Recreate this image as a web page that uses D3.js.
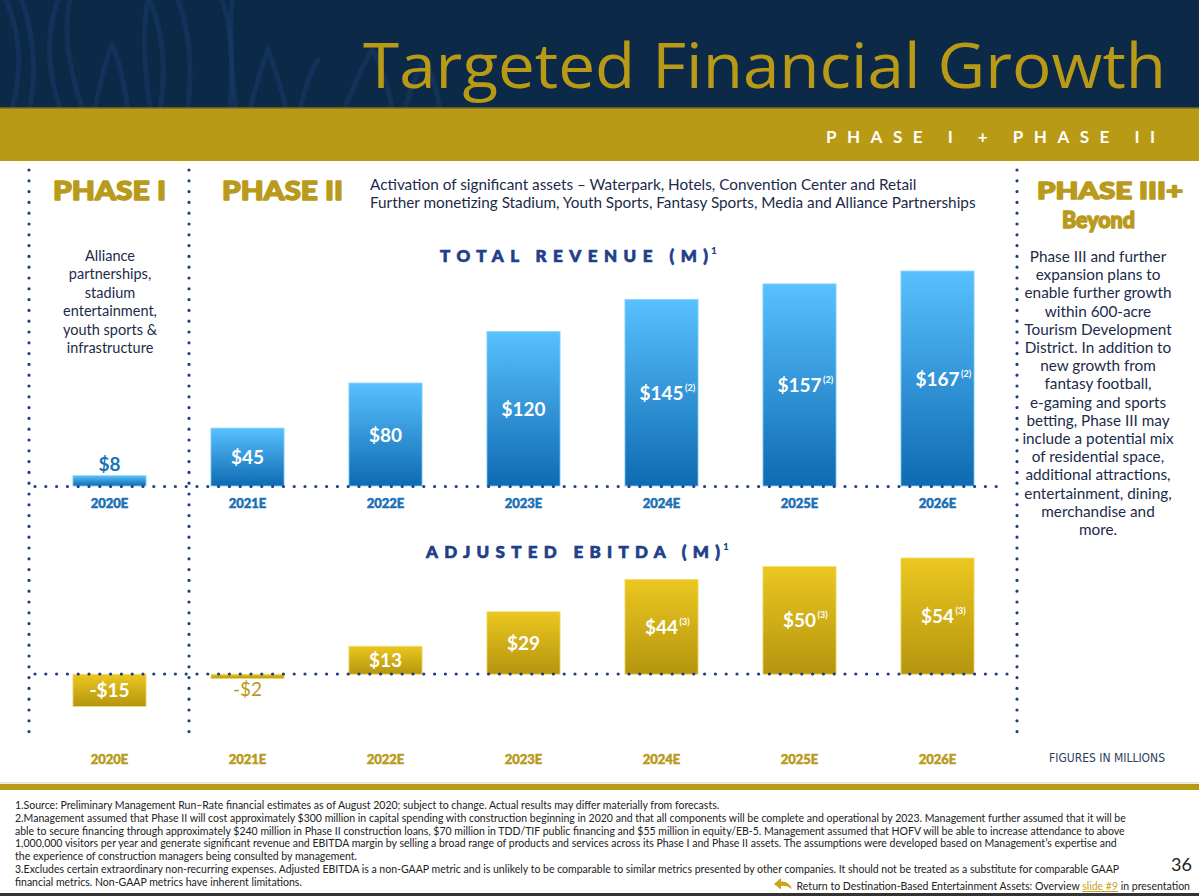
<!DOCTYPE html>
<html><head><meta charset="utf-8">
<script src="https://cdn.jsdelivr.net/npm/d3@7"></script>
<style>body{margin:0;background:#fff}svg{display:block}</style>
</head><body><svg id="c" width="1199" height="896"></svg>
<script>
// ---------- DATA ----------
const years = ["2020E","2021E","2022E","2023E","2024E","2025E","2026E"];
const revenue = [8,45,80,120,145,157,167];
const revenueNotes = ["","","","","(2)","(2)","(2)"];
const ebitda = [-15,-2,13,29,44,50,54];
const ebitdaNotes = ["","","","","(3)","(3)","(3)"];
const phase1Lines = ["Alliance","partnerships,","stadium","entertainment,","youth sports &","infrastructure"];
const phase3Lines = ["Phase III and further","expansion plans to","enable further growth","within 600-acre","Tourism Development","District. In addition to","new growth from","fantasy football,","e-gaming and sports","betting, Phase III may","include a potential mix","of residential space,","additional attractions,","entertainment, dining,","merchandise and","more."];
const phase2Lines = ["Activation of significant assets \u2013 Waterpark, Hotels, Convention Center and Retail","Further monetizing Stadium, Youth Sports, Fantasy Sports, Media and Alliance Partnerships"];
const footnotes = [
"1.Source: Preliminary Management Run\u2013Rate financial estimates as of August 2020; subject to change. Actual results may differ materially from forecasts.",
"2.Management assumed that Phase II will cost approximately $300 million in capital spending with construction beginning in 2020 and that all components will be complete and operational by 2023. Management further assumed that it will be",
"able to secure financing through approximately $240 million in Phase II construction loans, $70 million in TDD/TIF public financing and $55 million in equity/EB-5. Management assumed that HOFV will be able to increase attendance to above",
"1,000,000 visitors per year and generate significant revenue and EBITDA margin by selling a broad range of products and services across its Phase I and Phase II assets. The assumptions were developed based on Management\u2019s expertise and",
"the experience of construction managers being consulted by management.",
"3.Excludes certain extraordinary non-recurring expenses. Adjusted EBITDA is a non-GAAP metric and is unlikely to be comparable to similar metrics presented by other companies. It should not be treated as a substitute for comparable GAAP",
"financial metrics. Non-GAAP metrics have inherent limitations."
];

// ---------- SETUP ----------
const W = 1199, H = 896;
const svg = d3.select("#c");
const defs = svg.append("defs");
function grad(id, c0, c1){
  const g = defs.append("linearGradient").attr("id", id).attr("x1",0).attr("y1",0).attr("x2",0).attr("y2",1);
  g.append("stop").attr("offset","0%").attr("stop-color",c0);
  g.append("stop").attr("offset","100%").attr("stop-color",c1);
}
grad("gRev","#58c1fe","#0e6ab2");
grad("gEb","#ebc71f","#b5950f");

const NAVY = "#0c2947", GOLD = "#b99a15", TEXT = "#1c2b4a", DOT = "#1f3c86";
const sans = "Lato, 'Noto Sans', sans-serif";

// ---------- HEADER ----------
svg.append("rect").attr("width",W).attr("height",108).attr("fill",NAVY);
const decor = [
  "M6,0 Q28,50 12,108","M22,0 Q40,55 30,108","M58,0 Q40,50 60,108","M70,0 Q60,40 82,108",
  "M95,108 Q105,60 112,45 Q120,60 128,108","M150,0 Q170,50 160,108","M178,0 Q195,45 188,108",
  "M222,0 Q236,40 230,108","M148,0 Q140,40 150,108","M250,108 Q262,65 268,50 Q276,70 286,108",
  "M300,108 Q310,70 318,60","M345,108 Q360,70 372,50 Q385,70 392,108","M405,108 Q415,75 425,60 Q435,80 440,108",
  "M232,0 Q228,50 236,108"
];
svg.append("g").selectAll("path").data(decor).join("path")
  .attr("d", d=>d).attr("fill","none").attr("stroke","#1c3d6e").attr("stroke-width",5)
  .attr("stroke-linecap","round").attr("opacity",0.45);
svg.append("rect").attr("y",107).attr("width",W).attr("height",54).attr("fill",GOLD);
svg.append("rect").attr("y",107).attr("width",W).attr("height",1.5).attr("fill","#5f5a30");

svg.append("text").attr("x",1166).attr("y",88).attr("text-anchor","end")
  .attr("font-family","'Open Sans', sans-serif").attr("font-size",63).attr("fill","#b99a16")
  .attr("textLength",803).attr("lengthAdjust","spacingAndGlyphs")
  .text("Targeted Financial Growth");

svg.append("text").attr("x",826).attr("y",143)
  .attr("font-family",sans).attr("font-weight",700).attr("font-size",17).attr("fill","#fff")
  .attr("textLength",329).attr("lengthAdjust","spacing")
  .text("PHASE I + PHASE II");

// ---------- DOTTED SEPARATORS ----------
function dotted(x1,y1,x2,y2){
  svg.append("line").attr("x1",x1).attr("y1",y1).attr("x2",x2).attr("y2",y2)
    .attr("stroke",DOT).attr("stroke-width",3.2).attr("stroke-linecap","round")
    .attr("stroke-dasharray","0 10.8");
}
dotted(29,170,29,740);
dotted(189,170,189,740);
dotted(1017,170,1017,740);

// ---------- HEADINGS ----------
function heavy(x,y,t,len,size,anchor){
  const e = svg.append("text").attr("x",x).attr("y",y).attr("font-family",sans).attr("font-weight",900)
    .attr("font-size",size||27).attr("fill","#b99a1a").attr("stroke","#b99a1a").attr("stroke-width",1.5)
    .attr("stroke-linejoin","round").attr("text-anchor",anchor||"start").text(t);
  if(len) e.attr("textLength",len).attr("lengthAdjust","spacingAndGlyphs");
  return e;
}
heavy(53,200,"PHASE I",113);
heavy(222,200,"PHASE II",121);
heavy(1037,198.5,"PHASE III+",146,23.5);
heavy(1062,227.5,"Beyond",73,23.5);

const p2 = svg.append("g").attr("font-family",sans).attr("fill",TEXT);
const p2t = p2.selectAll("text").data(phase2Lines).join("text")
  .attr("x",370).attr("y",(d,i)=>190+i*18).attr("font-size",14).text(d=>d);
const p2w = p2t.nodes()[1].getComputedTextLength();
p2t.attr("font-size", 14*606/p2w);

svg.append("g").selectAll("text").data(phase1Lines).join("text")
  .attr("x",110).attr("y",(d,i)=>261+i*18.4).attr("text-anchor","middle").attr("font-family",sans)
  .attr("font-size",14.5).attr("fill",TEXT).text(d=>d);

svg.append("g").selectAll("text").data(phase3Lines).join("text")
  .attr("x",1098).attr("y",(d,i)=>262+i*18.2).attr("text-anchor","middle").attr("font-family",sans)
  .attr("font-size",15.3).attr("fill",TEXT).text(d=>d);

// ---------- SCALES ----------
const x = d3.scaleBand().domain(years).range([40.5,1006.5]).paddingInner(0.47).paddingOuter(0.235);
const yRev = d3.scaleLinear().domain([0,167]).range([486,271]);
const yEb = d3.scaleLinear().domain([-15,54]).range([706.5,558]);

function sectionTitle(cx,y,t,len){
  return svg.append("text").attr("x",cx).attr("y",y).attr("font-family",sans).attr("font-weight",900)
    .attr("font-size",17).attr("fill","#1f3f8a").attr("stroke","#1f3f8a").attr("stroke-width",0.7)
    .attr("textLength",len).attr("lengthAdjust","spacing").text(t);
}
sectionTitle(440,262,"TOTAL REVENUE (M)",268);
svg.append("text").attr("x",711).attr("y",254).attr("font-family",sans).attr("font-weight",900)
  .attr("font-size",10).attr("fill","#1f3f8a").text("1");
sectionTitle(426,558,"ADJUSTED EBITDA (M)",294);
svg.append("text").attr("x",723).attr("y",550).attr("font-family",sans).attr("font-weight",900)
  .attr("font-size",10).attr("fill","#1f3f8a").text("1");

// ---------- REVENUE BARS ----------
const rev = svg.append("g");
rev.selectAll("rect").data(revenue).join("rect")
  .attr("x",(d,i)=>x(years[i])).attr("width",x.bandwidth())
  .attr("y",d=>yRev(d)).attr("height",d=>yRev(0)-yRev(d))
  .attr("fill","url(#gRev)").attr("stroke","#8ad4ff").attr("stroke-width",0.8);
dotted(35,486.5,1006,486.5);

function valueLabel(g, d, i, y, color, weight, note){
  const cx = x(years[i]) + x.bandwidth()/2;
  const t = g.append("text").attr("x",cx).attr("y",y).attr("text-anchor","middle")
    .attr("font-family",sans).attr("font-weight",weight).attr("font-size",19).attr("fill",color)
    .text((d<0?"-$":"$")+Math.abs(d));
  if(note){
    const w = t.node().getComputedTextLength();
    g.append("text").attr("x",cx + w/2 + 1.5).attr("y",y-9).attr("font-family",sans).attr("font-weight",700)
      .attr("font-size",9).attr("fill",color).text(note);
  }
}
revenue.forEach((d,i)=>{
  if(yRev(0)-yRev(d) < 25) valueLabel(rev,d,i,yRev(d)-5,"#1a74ba",700,revenueNotes[i]);
  else valueLabel(rev,d,i,(yRev(d)+yRev(0))/2+7,"#fff",700,revenueNotes[i]);
});
rev.selectAll("text.cat").data(years).join("text").attr("class","cat")
  .attr("x",d=>x(d)+x.bandwidth()/2).attr("y",508).attr("text-anchor","middle")
  .attr("font-family",sans).attr("font-weight",900).attr("font-size",13).attr("fill","#1a6fb5")
  .attr("stroke","#1a6fb5").attr("stroke-width",0.5).text(d=>d);

// ---------- EBITDA BARS ----------
const eb = svg.append("g");
eb.selectAll("rect").data(ebitda).join("rect")
  .attr("x",(d,i)=>x(years[i])).attr("width",x.bandwidth())
  .attr("y",d=>Math.min(yEb(d),yEb(0))).attr("height",d=>Math.abs(yEb(d)-yEb(0)))
  .attr("fill","url(#gEb)").attr("stroke","#f2dc6a").attr("stroke-width",0.8);
dotted(35,674,1010,674);
ebitda.forEach((d,i)=>{
  const h = Math.abs(yEb(d)-yEb(0));
  if(h < 12) valueLabel(eb,d,i,yEb(Math.min(d,0))+17,"#b99a1a",400,ebitdaNotes[i]);
  else valueLabel(eb,d,i,(yEb(d)+yEb(0))/2+7,"#fff",700,ebitdaNotes[i]);
});
eb.selectAll("text.cat").data(years).join("text").attr("class","cat")
  .attr("x",d=>x(d)+x.bandwidth()/2).attr("y",764).attr("text-anchor","middle")
  .attr("font-family",sans).attr("font-weight",900).attr("font-size",13).attr("fill","#b99a1a")
  .attr("stroke","#b99a1a").attr("stroke-width",0.5).text(d=>d);

svg.append("text").attr("x",1049).attr("y",762)
  .attr("font-family","'Liberation Sans Narrow', 'DejaVu Sans Condensed', sans-serif").attr("font-size",12.5)
  .attr("fill","#2c3d5c").attr("textLength",116).attr("lengthAdjust","spacingAndGlyphs").text("FIGURES IN MILLIONS");

// ---------- FOOTER ----------
svg.append("rect").attr("y",782).attr("width",W).attr("height",1.5).attr("fill","#e6e2d2");
svg.append("rect").attr("y",784).attr("width",W).attr("height",6).attr("fill",GOLD);
const fn = svg.append("g").attr("font-family",sans).attr("fill","#222");
const probe = fn.append("text").attr("font-size",10).text(footnotes[1]);
const fs = 10 * 1113 / probe.node().getComputedTextLength();
probe.remove();
fn.selectAll("text").data(footnotes).join("text")
  .attr("x",15).attr("y",(d,i)=>809+i*12.8).attr("font-size",fs).text(d=>d);

svg.append("text").attr("x",1192).attr("y",871).attr("text-anchor","end").attr("font-family",sans)
  .attr("font-size",18).attr("fill","#222").text("36");

const ret = svg.append("text").attr("x",1190).attr("y",890).attr("text-anchor","end")
  .attr("font-family",sans).attr("font-size",fs).attr("fill","#222");
ret.append("tspan").text("Return to Destination-Based Entertainment Assets: Overview ");
ret.append("tspan").attr("fill","#c9a51c").attr("text-decoration","underline").text("slide #9");
ret.append("tspan").text(" in presentation");
svg.append("path").attr("d","M774,884 L781,878 L781,881.5 Q789,881 792,889 Q787,885 781,886 L781,889.5 Z")
  .attr("fill","#c9a51c");

svg.append("rect").attr("y",893).attr("width",W).attr("height",3).attr("fill","#333");
</script>
</body></html>
